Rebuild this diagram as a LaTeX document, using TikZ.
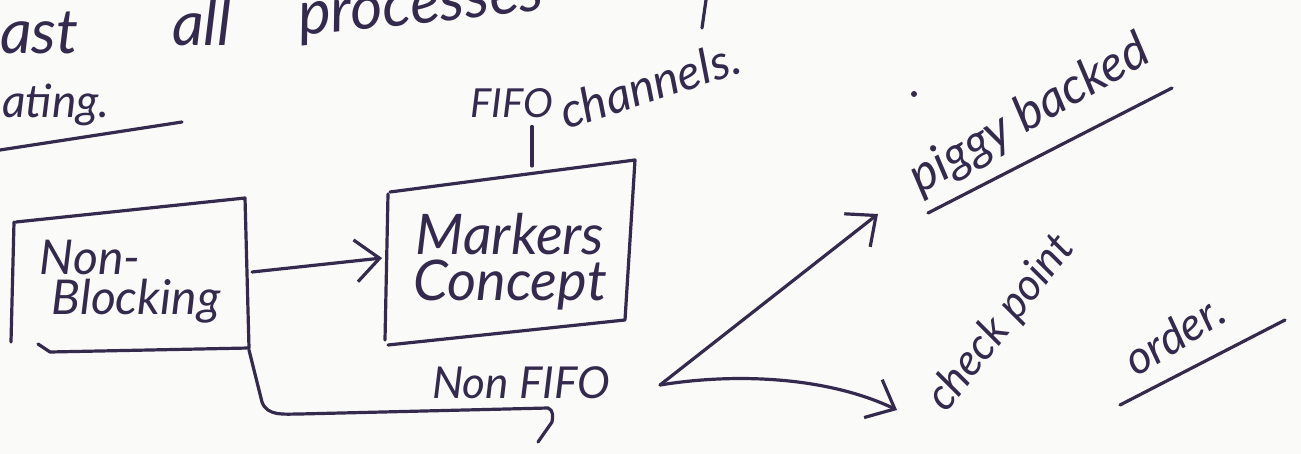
\documentclass[tikz,border=0pt]{standalone}
\usepackage{fontspec}
\setmainfont{Lato}
\usetikzlibrary{arrows.meta}
\definecolor{ink}{RGB}{52,42,78}
\definecolor{paper}{RGB}{250,250,248}
\newfontfamily\handfont{Lato}
\tikzset{
  pen/.style={draw=ink, line width=3.2pt, line cap=round, line join=round},
  hand/.style={text=ink, inner sep=0pt, font=\handfont\itshape\fontsize{#1}{#1}\selectfont},
  hand/.default=48,
  barb/.style={-{Straight Barb[length=24pt,width=42pt,line width=3.2pt]}},
}
\begin{document}
\begin{tikzpicture}[x=1pt,y=-1pt]
\fill[paper] (0,0) rectangle (1301,454);
\useasboundingbox (0,0) rectangle (1301,454);

% line cut at the top of the page
\node[hand=62, anchor=base west] (t1) at (0,54) {ast};
\node[hand=62, anchor=base west] (t2) at (172,46) {all};
\node[hand=62, anchor=base west, rotate=6] (t3) at (300,36) {processes};
\draw[pen] (706,0) -- (702,28);

% heading fragment, underlined
\node[hand=46, anchor=base west] (hd) at (2,118) {ating.};
\draw[pen] (0,150) -- (182,122);

% Non-Blocking box
\node[hand=48, align=left] (nb) at (130,282) {Non-\\[-8pt]\hspace*{12pt}Blocking};
\draw[pen] (16,222) -- (245,198) -- (249,348) -- (50,352) -- (38,344);
\draw[pen] (14,222) -- (11,342);
\coordinate (nbE) at (252,272);
\coordinate (nbS) at (249,350);

% Markers Concept box
\node[hand=56, align=center] (mk) at (510,262) {Markers\\[-10pt]Concept};
\draw[pen] (390,192) -- (635,160) -- (625,320) -- (388,345);
\draw[pen] (388,194) -- (385,340);
\coordinate (mkW) at (382,258);
\coordinate (mkN) at (532,166);

% FIFO channels
\node[hand=40, anchor=base west] (fifo) at (470,118) {FIFO};
\node[hand=48, anchor=base west, rotate=18] (ch) at (566,130) {channels.};
\draw[pen] (fifo.south -| mkN) ++(0,8) coordinate (fs) -- (mkN);

% Non FIFO
\node[hand=44, anchor=base west] (nf) at (432,398) {Non FIFO};
\coordinate (nfE) at (660,385);
\coordinate (nfS) at (548,408);

% connectors
\draw[pen, barb] (nbE) -- (mkW);
\draw[pen] (nbS) -- (262,402) to[out=-70,in=180] (300,414) -- (nfS)
  to[out=-20,in=80] (552,422) -- (538,442);

% piggy backed
\node[hand=50, anchor=base west, rotate=30] (pb) at (920,195) {piggy backed};
\draw[pen] (928,213) -- (1172,88);
\fill[ink] (914,94) circle (3pt);
\coordinate (pbW) at (878,214);

% check point order.
\node[hand=44, anchor=base west, rotate=52] (cp) at (946,414) {check point};
\node[hand=46, anchor=base west, rotate=32] (od) at (1136,378) {order.};
\draw[pen] (1120,405) -- (1285,320);
\coordinate (cpW) at (897,410);

\draw[pen, barb] (nfE) -- (pbW);
\draw[pen, barb] (nfE) .. controls (740,372) and (830,378) .. (cpW);
\end{tikzpicture}
\end{document}
